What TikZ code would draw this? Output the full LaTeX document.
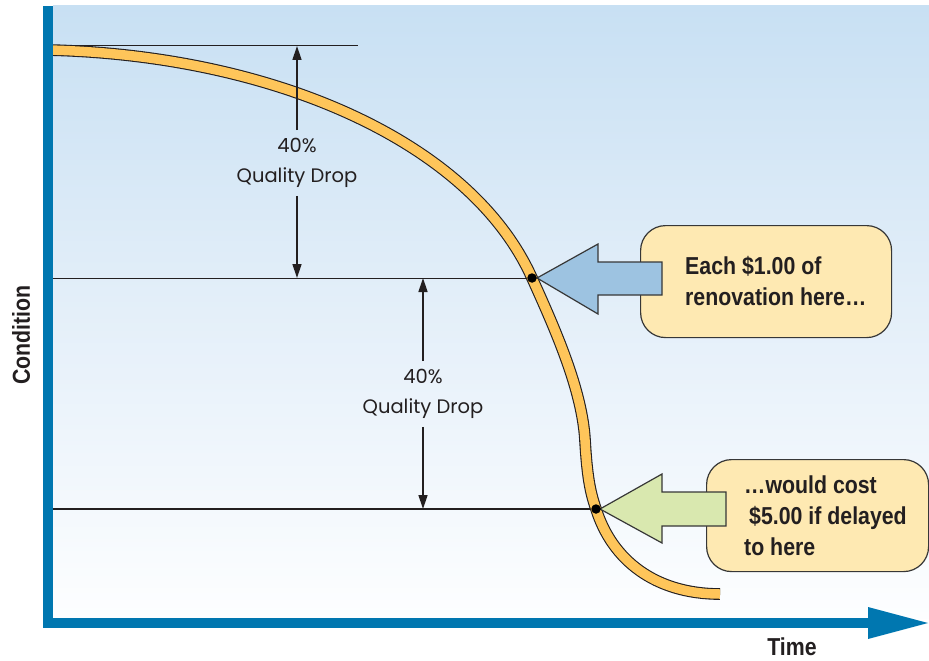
\documentclass[tikz,border=0pt]{standalone}
\usepackage{fontspec}
\setmainfont{Liberation Sans}
\newfontfamily\condfont[FakeStretch=0.87]{Liberation Sans}
\newfontfamily\geofont{Poppins}
\usetikzlibrary{arrows.meta}
\definecolor{axisblue}{RGB}{0,119,176}
\definecolor{inkc}{RGB}{35,31,32}
\definecolor{boxedge}{RGB}{55,55,55}
\definecolor{boxfill}{RGB}{254,233,178}
\definecolor{curveorange}{RGB}{254,197,90}
\definecolor{arrowblue}{RGB}{157,195,225}
\definecolor{arrowgreen}{RGB}{217,232,175}
\definecolor{bgtop}{RGB}{200,224,243}
\definecolor{bgmid}{RGB}{228,239,249}
\definecolor{bgbot}{RGB}{253,254,255}
\begin{document}
\begin{tikzpicture}[x=1pt,y=-1pt,
  hline/.style={draw=inkc, line width=1pt},
  dimarrow/.style={draw=inkc, line width=1.4pt, -{Triangle[length=14pt,width=9pt]}},
  droplabel/.style={font=\geofont\fontsize{19.5}{30}\selectfont, text=inkc, align=center, inner xsep=0pt, inner ysep=8pt},
  callout/.style={draw=boxedge, line width=1.2pt, fill=boxfill, rounded corners=25pt, rectangle, inner sep=0pt, anchor=north west},
  calltext/.style={font=\condfont\bfseries\fontsize{24.5}{31}\selectfont, text=inkc, align=left, inner sep=0pt, anchor=west},
  blockarrow/.style={draw=boxedge, line width=1.2pt, line join=miter},
  dotmark/.style={circle, fill=black, inner sep=0pt, minimum size=9.5pt},
  axislabel/.style={font=\condfont\bfseries\fontsize{24.5}{30}\selectfont, text=inkc, inner sep=0pt},
  axisbar/.style={fill=axisblue}
]
\useasboundingbox (0,0) rectangle (929,661);
% background
\shade[top color=bgtop, bottom color=bgbot, middle color=bgmid] (53,6) rectangle (929,618);

% key points
\coordinate (c1) at (532,278);
\coordinate (c2) at (596,509);
\coordinate (top0) at (53,46);
\coordinate (top1) at (358,46);
\coordinate (mid0) at (53,278);
\coordinate (bot0) at (53,509);

% level lines
\draw[hline] (top0) -- (top1);
\draw[hline] (mid0) -- (c1);
\draw[hline, line width=1.5pt] (bot0) -- (c2);

% condition curve
\draw[draw=inkc, line width=1.1pt, double=curveorange, double distance=9.5pt]
  (48,50) .. controls (270,55) and (470,140) .. (c1)
  .. controls (556,331) and (582,390) .. (585,440)
  .. controls (587,475) and (590,492) .. (c2)
  .. controls (612,560) and (655,594) .. (720,594);

% dimension arrows
\node[droplabel] (q1) at (297,163) {40\%\\Quality Drop};
\coordinate (q1top) at (297,46);
\coordinate (q1bot) at (297,278);
\draw[dimarrow] (q1.north) -- (q1top);
\draw[dimarrow] (q1.south) -- (q1bot);

\node[droplabel] (q2) at (423,394) {40\%\\Quality Drop};
\coordinate (q2top) at (423,278);
\coordinate (q2bot) at (423,509);
\draw[dimarrow] (q2.north) -- (q2top);
\draw[dimarrow] (q2.south) -- (q2bot);

% callout boxes
\node[callout, minimum width=251pt, minimum height=112pt] (box1) at (640,225) {};
\node[calltext] (t1) at (685,281) {Each \$1.00 of\\renovation here…};
\node[callout, minimum width=222pt, minimum height=112pt] (box2) at (706,459) {};
\node[calltext] (t2) at (744,516) {…would cost\\\hspace{5pt}\$5.00 if delayed\\to here};

% block arrows
\draw[blockarrow, fill=arrowblue] ([xshift=5pt]c1) -- ++(61,-34) -- ++(0,18) -- ++(64,0) -- ++(0,33) -- ++(-64,0) -- ++(0,19) -- cycle;
\draw[blockarrow, fill=arrowgreen] ([xshift=4pt]c2) -- ++(62,-35) -- ++(0,18) -- ++(64,0) -- ++(0,34) -- ++(-64,0) -- ++(0,17) -- cycle;

% dots
\node[dotmark] (d1) at (c1) {};
\node[dotmark] (d2) at (c2) {};

% axes
\fill[axisbar] (43,6) rectangle (53,628);
\fill[axisbar] (43,618) rectangle (870,628);
\fill[axisbar] (868,607) -- (928,623) -- (868,639) -- cycle;

\node[axislabel, rotate=90] (cond) at (21,335) {Condition};
\node[axislabel, anchor=base] (time) at (792,655) {Time};
\end{tikzpicture}
\end{document}
